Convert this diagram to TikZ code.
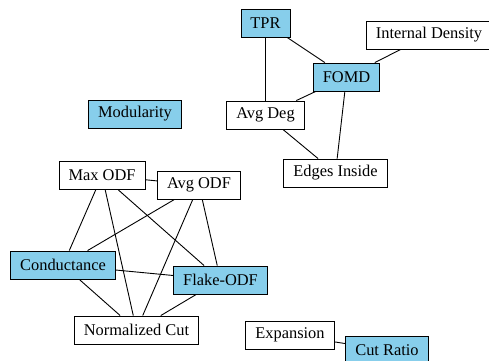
\documentclass[tikz,border=0pt]{standalone}
\usepackage{fontspec}
\setmainfont{Liberation Serif}
\usepackage{tikz}
\usetikzlibrary{shapes}
\definecolor{skyfill}{HTML}{87CEEB}
\tikzset{MNode/.style={shape=rectangle,draw,line width=0.9pt,fill=white,minimum height=28pt,inner xsep=9.5pt,inner ysep=0pt,font=\fontsize{16.4}{18}\selectfont}}
\tikzset{MHi/.style={MNode,fill=skyfill}}

\begin{document}
\begin{tikzpicture}[x=1pt,y=-1pt]
	\useasboundingbox (0,0) rectangle (489,360);
	\node[MHi] (tpr) at (265.5,23) {TPR};
	\node[MNode] (intden) at (429,35) {Internal Density};
	\node[MHi] (fomd) at (346.5,77) {FOMD};
	\node[MHi] (mod) at (135,114) {Modularity};
	\node[MNode] (avgdeg) at (265.5,115) {Avg Deg};
	\node[MNode] (edgein) at (335.5,173) {Edges Inside};
	\node[MNode] (maxodf) at (102,175.5) {Max ODF};
	\node[MNode] (avgodf) at (199,185) {Avg ODF};
	\node[MHi] (cond) at (63,265) {Conductance};
	\node[MHi] (flake) at (220.5,280) {Flake-ODF};
	\node[MNode] (ncut) at (136.5,330) {Normalized Cut};
	\node[MNode] (expan) at (290,335) {Expansion};
	\node[MHi] (cutr) at (387,350) {Cut Ratio};
	%
	\path[draw,line width=0.9pt]
	(tpr) edge (avgdeg)
	(tpr) edge (fomd)
	(intden) edge (fomd)
	(fomd) edge (avgdeg)
	(fomd) edge (edgein)
	(avgdeg) edge (edgein)
	(maxodf) edge (avgodf)
	(maxodf) edge (cond)
	(maxodf) edge (ncut)
	(maxodf) edge (flake)
	(avgodf) edge (cond)
	(avgodf) edge (ncut)
	(avgodf) edge (flake)
	(cond) edge (flake)
	(cond) edge (ncut)
	(flake) edge (ncut)
	(expan) edge (cutr);
\end{tikzpicture}
\end{document}
